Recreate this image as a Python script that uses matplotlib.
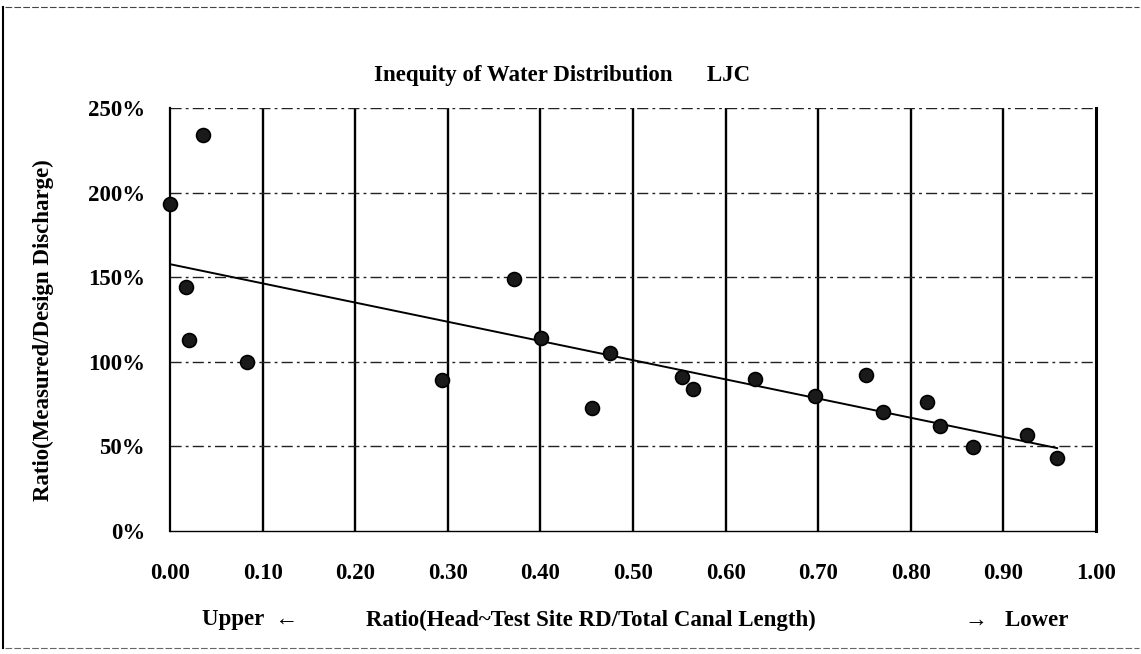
import matplotlib.pyplot as plt
from matplotlib.lines import Line2D
from matplotlib.ticker import PercentFormatter

# site position (head->test site RD / total canal length) and discharge ratio
site_pos = [0.000, 0.017, 0.021, 0.036, 0.083, 0.294, 0.371, 0.401, 0.456, 0.475,
            0.553, 0.565, 0.632, 0.697, 0.752, 0.770, 0.817, 0.831, 0.867, 0.926, 0.958]
ratio = [1.93, 1.44, 1.13, 2.34, 1.00, 0.89, 1.49, 1.14, 0.725, 1.05,
         0.91, 0.84, 0.90, 0.80, 0.92, 0.705, 0.765, 0.62, 0.495, 0.57, 0.43]

# linear trend line end points
trend_x = [0.0, 0.958]
trend_y = [1.577, 0.49]

xticks = [0.0, 0.1, 0.2, 0.3, 0.4, 0.5, 0.6, 0.7, 0.8, 0.9, 1.0]
yticks = [0.0, 0.5, 1.0, 1.5, 2.0, 2.5]

plt.rcParams['font.family'] = ['Liberation Serif', 'DejaVu Serif']
plt.rcParams['font.weight'] = 'bold'
FS = 16.5

W, H = 1141, 654
fig = plt.figure(figsize=(W / 100, H / 100), dpi=100)
ax = fig.add_axes([170 / W, 1 - 531 / H, (1096 - 170) / W, (531 - 108) / H])

ax.set_xlim(0, 1)
ax.set_ylim(0, 2.5)
ax.set_xticks(xticks)
ax.set_yticks(yticks)
ax.xaxis.set_major_formatter(lambda v, p: f'{v:.2f}')
ax.yaxis.set_major_formatter(PercentFormatter(1.0, decimals=0))
ax.tick_params(length=0, labelsize=FS)
ax.tick_params(axis='x', pad=23)
ax.tick_params(axis='y', pad=18)

for x in xticks[1:-1]:
    ax.axvline(x, color='black', lw=1.7, zorder=1)
for y in yticks[1:]:
    ax.axhline(y, color='#222222', lw=1.0, ls=(0, (8, 3, 2, 3)), zorder=1)

for side in ['left', 'bottom', 'right']:
    ax.spines[side].set_color('black')
ax.spines['left'].set_linewidth(1.6)
ax.spines['bottom'].set_linewidth(1.0)
ax.spines['right'].set_linewidth(2.2)
ax.spines['top'].set_visible(False)

ax.plot(trend_x, trend_y, color='black', lw=1.4, zorder=2)
ax.plot(site_pos, ratio, 'o', ms=10, mfc='#1a1a1a', mec='black', mew=1.2,
        zorder=3, clip_on=False)

fig.text(562 / W, 1 - 75 / H, 'Inequity of Water Distribution      LJC',
         ha='center', va='center', fontsize=FS)
fig.text(43 / W, 1 - 330 / H, 'Ratio(Measured/Design Discharge)',
         rotation=90, ha='center', va='center', fontsize=FS)
fig.text(202 / W, 1 - 620 / H, 'Upper  \u2190', ha='left', va='center', fontsize=FS)
fig.text(591 / W, 1 - 620 / H, 'Ratio(Head~Test Site RD/Total Canal Length)',
         ha='center', va='center', fontsize=FS)
fig.text(1068 / W, 1 - 620 / H, '\u2192   Lower', ha='right', va='center', fontsize=FS)

# scanned page border
fig.add_artist(Line2D([5 / W, 1139 / W], [1 - 7 / H, 1 - 7 / H], color='#444444',
                      lw=0.8, ls=(0, (6, 2))))
fig.add_artist(Line2D([3 / W, 3 / W], [1 - 7 / H, 1 - 648 / H], color='black', lw=1.5))
fig.add_artist(Line2D([5 / W, 1139 / W], [1 - 648 / H, 1 - 648 / H], color='#666666',
                      lw=0.8, ls=(0, (6, 2))))

fig.savefig('out.png', dpi=100)
